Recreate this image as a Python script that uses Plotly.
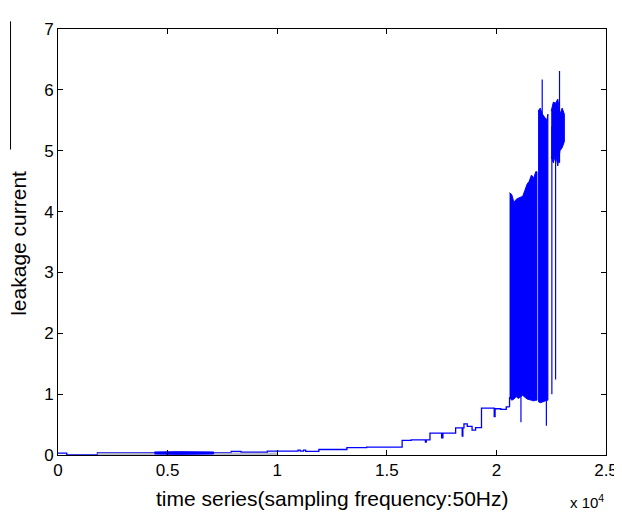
import plotly.graph_objects as go

# slow-rising part of the leakage current (sample index, value) - step like
base_x = [0, 400, 1800, 4400, 7100, 7900, 8350, 9550, 10950, 11050, 11200, 11300,
          11900, 13180, 14080, 15700, 15760, 16110, 16760, 16800, 16970, 17500,
          17560, 18140, 18440, 18470, 18520, 18670, 18890, 19050, 19320, 19900,
          19940, 20200, 20450, 20600]
base_y = [0.03, 0.0, 0.04, 0.04, 0.04, 0.06, 0.045, 0.065, 0.08, 0.065, 0.08, 0.06,
          0.09, 0.12, 0.13, 0.24, 0.24, 0.25, 0.21, 0.25, 0.36, 0.28,
          0.36, 0.445, 0.31, 0.445, 0.51, 0.47, 0.41, 0.45, 0.77, 0.63,
          0.76, 0.75, 0.79, 0.79]

# dense oscillation blocks: sample index, lower and upper envelope
early_x = [4400, 5500, 7100]
early_lo = [0.015, 0.01, 0.015]
early_hi = [0.05, 0.055, 0.05]

blk1_x = [20600, 20700, 20800, 20900, 21000, 21200, 21300, 21400, 21500, 21600, 21700, 21800, 21850]
blk1_lo = [0.95, 0.90, 0.92, 0.96, 0.93, 0.98, 0.95, 0.92, 0.91, 0.90, 0.89, 0.90, 0.90]
blk1_hi = [4.31, 4.28, 4.15, 4.20, 4.22, 4.25, 4.35, 4.45, 4.50, 4.60, 4.55, 4.66, 4.65]

blk2_x = [21900, 22000, 22100, 22200, 22300, 22350]
blk2_lo = [0.88, 0.86, 0.87, 0.88, 0.90, 0.90]
blk2_hi = [5.65, 5.70, 5.60, 5.55, 5.50, 5.60]

blk3_x = [22500, 22600, 22700, 22800, 22900, 23000, 23100]
blk3_lo = [4.90, 4.80, 4.95, 4.75, 5.00, 5.05, 5.15]
blk3_hi = [5.65, 5.80, 5.78, 5.85, 5.60, 5.70, 5.60]

# single spikes
spike_x = [21120, 22090, 22280, 22530, 22700, 22880]
spike_lo = [0.54, 5.50, 0.48, 1.00, 1.24, 4.80]
spike_hi = [1.00, 6.17, 1.00, 5.40, 5.30, 6.31]

x_ticks = [0, 5000, 10000, 15000, 20000, 25000]
x_labels = ['0', '0.5', '1', '1.5', '2', '2.5']

BLUE = '#0000ff'
FONT = 'Liberation Sans, Arial, sans-serif'

fig = go.Figure()

fig.add_trace(go.Scatter(x=base_x, y=base_y, mode='lines', line_shape='hv',
                         line=dict(color=BLUE, width=1.3)))

# faint noisy floor at the start
fig.add_trace(go.Scatter(x=[1800, 4400, 4400, 1800], y=[0.0, 0.0, 0.04, 0.04],
                         fill='toself', fillcolor='rgba(170,170,190,0.8)', mode='none'))
fig.add_trace(go.Scatter(x=[7100, 10000, 10000, 7100], y=[0.0, 0.0, 0.04, 0.04],
                         fill='toself', fillcolor='rgba(170,170,190,0.8)', mode='none'))

for bx, lo, hi in [(early_x, early_lo, early_hi), (blk1_x, blk1_lo, blk1_hi),
                   (blk2_x, blk2_lo, blk2_hi), (blk3_x, blk3_lo, blk3_hi)]:
    fig.add_trace(go.Scatter(x=bx + bx[::-1], y=hi + lo[::-1], fill='toself',
                             fillcolor=BLUE, mode='lines',
                             line=dict(color=BLUE, width=1)))

# connect baseline to first block
fig.add_trace(go.Scatter(x=[base_x[-1], blk1_x[0]], y=[base_y[-1], blk1_lo[0]],
                         mode='lines', line=dict(color=BLUE, width=1.3)))

sx, sy = [], []
for x, lo, hi in zip(spike_x, spike_lo, spike_hi):
    sx += [x, x, None]
    sy += [lo, hi, None]
fig.add_trace(go.Scatter(x=sx, y=sy, mode='lines', line=dict(color=BLUE, width=1.2)))

axis_style = dict(showline=True, linecolor='black', linewidth=1, mirror='ticks',
                  ticks='inside', ticklen=5, tickcolor='black', showgrid=False,
                  zeroline=False, tickfont=dict(family=FONT, size=17, color='black'))

fig.update_xaxes(range=[0, 25000], tickvals=x_ticks, ticktext=x_labels, **axis_style)
fig.update_yaxes(range=[0, 7], dtick=1, **axis_style)

# page body adds 8px offset, so margins are shifted up/left by 8px
fig.update_layout(
    width=622, height=513,
    margin=dict(l=50, r=18, t=12, b=66),
    paper_bgcolor='white', plot_bgcolor='white',
    showlegend=False,
    annotations=[
        dict(text='time series(sampling frequency:50Hz)', xref='paper', yref='paper',
             x=0.5, y=-0.103, xanchor='center', yanchor='middle', showarrow=False,
             font=dict(family=FONT, size=21, color='black')),
        dict(text='x 10<sup>4</sup>', xref='paper', yref='paper',
             x=0.966, y=-0.108, xanchor='center', yanchor='middle', showarrow=False,
             font=dict(family=FONT, size=15, color='black')),
        dict(text='leakage current', xref='paper', yref='paper',
             x=-0.072, y=0.497, xanchor='center', yanchor='middle', showarrow=False,
             textangle=-90, font=dict(family=FONT, size=21, color='black')),
    ],
    shapes=[dict(type='line', xref='paper', yref='paper', x0=-0.0866, x1=-0.0866,
                 y0=0.717, y1=1.018, line=dict(color='black', width=1))],
)

fig.write_html("out.html")
